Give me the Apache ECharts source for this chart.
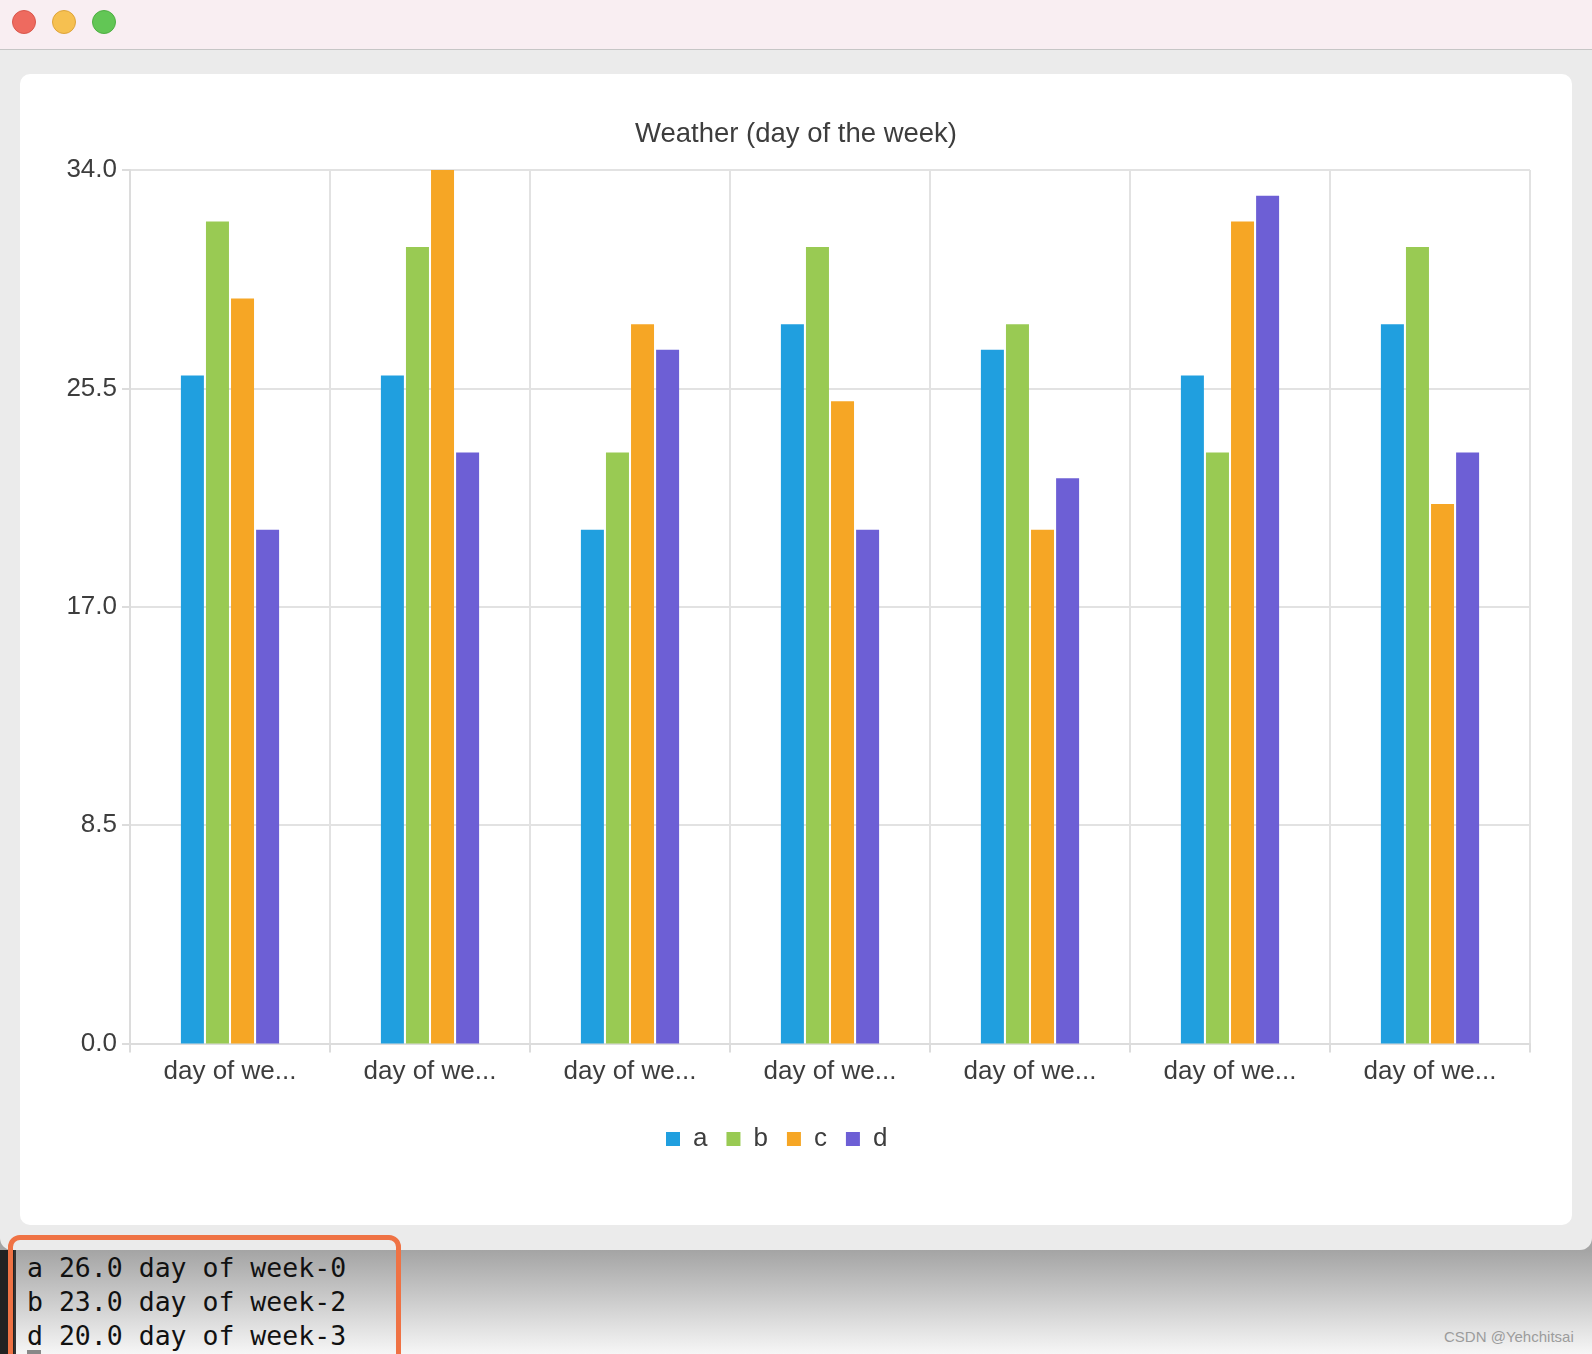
<!DOCTYPE html>
<html>
<head>
<meta charset="utf-8">
<script src="https://cdn.jsdelivr.net/npm/echarts@6/dist/echarts.min.js"></script>
<style>
  html, body { margin: 0; padding: 0; }
  body { width: 1592px; height: 1354px; position: relative; overflow: hidden;
         background: linear-gradient(to bottom, #a4a4a4 0px, #a4a4a4 1250px, #f6f6f6 1354px); }
  #win { position: absolute; left: 0; top: 0; width: 1592px; height: 1250px; background: #ebebeb;
         border-radius: 0 0 12px 12px; }
  #titlebar { position: absolute; left: 0; top: 0; width: 1592px; height: 50px; background: #f9eef2;
              border-bottom: 1px solid #c6c6c6; box-sizing: border-box; }
  .dot { position: absolute; top: 10px; width: 24px; height: 24px; border-radius: 50%; box-sizing: border-box; }
  #card { position: absolute; left: 20px; top: 74px; width: 1552px; height: 1151px; background: #fff; border-radius: 10px; }
  #chart { position: absolute; left: 0; top: 0; width: 1552px; height: 1151px; }
  #term { position: absolute; left: 0; top: 1250px; width: 14px; height: 104px; background: #222; }
  #term2 { position: absolute; left: 14px; top: 1250px; width: 2px; height: 104px; background: #333; }
  #box { position: absolute; left: 8px; top: 1235px; width: 393px; height: 140px; border: 5px solid #ef7244;
         border-radius: 12px; box-sizing: border-box; }
  #out { position: absolute; left: 27px; top: 1251px; font-family: "DejaVu Sans Mono", "Liberation Mono", monospace;
         font-size: 26.5px; line-height: 34px; color: #111; white-space: pre; }
  #cursor { position: absolute; left: 27px; top: 1350px; width: 14px; height: 4px; background: #888; }
  #wm { position: absolute; left: 1444px; top: 1328px; font-family: "Liberation Sans", Arial, sans-serif;
        font-size: 15px; color: #9c9c9c; }
</style>
</head>
<body>
<div id="win">
  <div id="titlebar">
    <div class="dot" style="left:12px;background:#ee6a5f;border:1px solid #d9574c;"></div>
    <div class="dot" style="left:52px;background:#f6c050;border:1px solid #dea43a;"></div>
    <div class="dot" style="left:92px;background:#62c655;border:1px solid #4eaf43;"></div>
  </div>
  <div id="card"><div id="chart"></div></div>
</div>
<div id="term"></div>
<div id="term2"></div>
<div id="out">a 26.0 day of week-0
b 23.0 day of week-2
d 20.0 day of week-3</div>
<div id="cursor"></div>
<div id="box"></div>
<div id="wm">CSDN @Yehchitsai</div>
<script>
const titleText = 'Weather (day of the week)';
const categories = ['day of week-0', 'day of week-1', 'day of week-2', 'day of week-3', 'day of week-4', 'day of week-5', 'day of week-6'];
const seriesNames = ['a', 'b', 'c', 'd'];
const seriesA = [26, 26, 20, 28, 27, 26, 28];
const seriesB = [32, 31, 23, 31, 28, 23, 31];
const seriesC = [29, 34, 28, 25, 20, 32, 21];
const seriesD = [20, 23, 27, 20, 22, 33, 23];
const yMin = 0, yMax = 34, yInterval = 8.5;
const colors = ['#209fdf', '#99ca53', '#f6a625', '#6d5fd5'];

const font = '"Liberation Sans", Arial, sans-serif';
const txt = '#3d3d3d';
const chart = echarts.init(document.getElementById('chart'), null, { renderer: 'canvas' });
const values = [seriesA, seriesB, seriesC, seriesD];
chart.setOption({
  animation: false,
  color: colors,
  title: {
    text: titleText, left: 'center', top: 44, padding: 0,
    textStyle: { fontFamily: font, fontSize: 27.5, fontWeight: 'normal', color: txt, lineHeight: 32 }
  },
  legend: {
    data: seriesNames, left: 646, top: 1051, padding: 0,
    icon: 'rect', itemWidth: 14, itemHeight: 14, itemGap: 19,
    textStyle: { fontFamily: font, fontSize: 26, color: txt, lineHeight: 28, padding: [0, 0, 0, 8] }
  },
  grid: { left: 110, top: 96, width: 1400, height: 873.5, containLabel: false },
  xAxis: {
    type: 'category', data: categories, boundaryGap: true,
    axisLine: { lineStyle: { color: '#dcdcdc', width: 2 } },
    axisTick: { show: true, length: 9, lineStyle: { color: '#dcdcdc', width: 2 } },
    splitLine: { show: true, lineStyle: { color: '#e2e2e2', width: 2 } },
    axisLabel: {
      fontFamily: font, fontSize: 26, color: txt, margin: 15,
      formatter: v => v.slice(0, 9) + '...'
    }
  },
  yAxis: {
    type: 'value', min: yMin, max: yMax, interval: yInterval,
    axisLine: { show: true, lineStyle: { color: '#dcdcdc', width: 2 } },
    axisTick: { show: true, length: 8, lineStyle: { color: '#dcdcdc', width: 2 } },
    splitLine: { show: true, lineStyle: { color: '#e2e2e2', width: 2 } },
    axisLabel: { fontFamily: font, fontSize: 26, color: txt, margin: 13, padding: [2, 0, 0, 0], formatter: v => v.toFixed(1) }
  },
  series: seriesNames.map((n, i) => ({
    name: n, type: 'bar', data: values[i], barWidth: 23, barGap: '9%',
    itemStyle: { color: colors[i] }
  }))
});
</script>
</body>
</html>
